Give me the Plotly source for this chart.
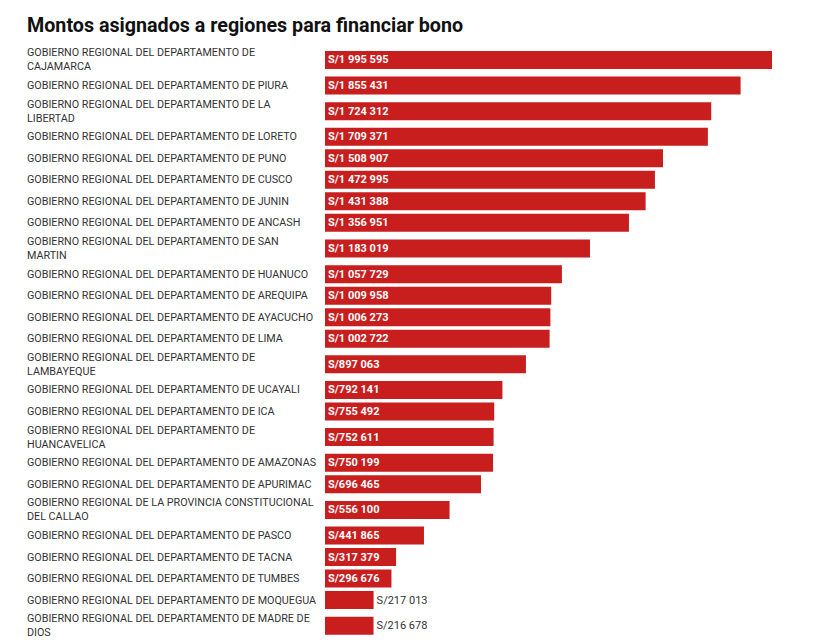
import plotly.graph_objects as go

# --- Data ---
TITLE = "Montos asignados a regiones para financiar bono"

regions = [
    "GOBIERNO REGIONAL DEL DEPARTAMENTO DE<br>CAJAMARCA",
    "GOBIERNO REGIONAL DEL DEPARTAMENTO DE PIURA",
    "GOBIERNO REGIONAL DEL DEPARTAMENTO DE LA<br>LIBERTAD",
    "GOBIERNO REGIONAL DEL DEPARTAMENTO DE LORETO",
    "GOBIERNO REGIONAL DEL DEPARTAMENTO DE PUNO",
    "GOBIERNO REGIONAL DEL DEPARTAMENTO DE CUSCO",
    "GOBIERNO REGIONAL DEL DEPARTAMENTO DE JUNIN",
    "GOBIERNO REGIONAL DEL DEPARTAMENTO DE ANCASH",
    "GOBIERNO REGIONAL DEL DEPARTAMENTO DE SAN<br>MARTIN",
    "GOBIERNO REGIONAL DEL DEPARTAMENTO DE HUANUCO",
    "GOBIERNO REGIONAL DEL DEPARTAMENTO DE AREQUIPA",
    "GOBIERNO REGIONAL DEL DEPARTAMENTO DE AYACUCHO",
    "GOBIERNO REGIONAL DEL DEPARTAMENTO DE LIMA",
    "GOBIERNO REGIONAL DEL DEPARTAMENTO DE<br>LAMBAYEQUE",
    "GOBIERNO REGIONAL DEL DEPARTAMENTO DE UCAYALI",
    "GOBIERNO REGIONAL DEL DEPARTAMENTO DE ICA",
    "GOBIERNO REGIONAL DEL DEPARTAMENTO DE<br>HUANCAVELICA",
    "GOBIERNO REGIONAL DEL DEPARTAMENTO DE AMAZONAS",
    "GOBIERNO REGIONAL DEL DEPARTAMENTO DE APURIMAC",
    "GOBIERNO REGIONAL DE LA PROVINCIA CONSTITUCIONAL<br>DEL CALLAO",
    "GOBIERNO REGIONAL DEL DEPARTAMENTO DE PASCO",
    "GOBIERNO REGIONAL DEL DEPARTAMENTO DE TACNA",
    "GOBIERNO REGIONAL DEL DEPARTAMENTO DE TUMBES",
    "GOBIERNO REGIONAL DEL DEPARTAMENTO DE MOQUEGUA",
    "GOBIERNO REGIONAL DEL DEPARTAMENTO DE MADRE DE<br>DIOS",
]

amounts = [
    1995595, 1855431, 1724312, 1709371, 1508907, 1472995, 1431388, 1356951,
    1183019, 1057729, 1009958, 1006273, 1002722, 897063, 792141, 755492,
    752611, 750199, 696465, 556100, 441865, 317379, 296676, 217013, 216678,
]

# --- Styling ---
BAR_COLOR = "#c81e1e"
TEXT_COLOR = "#333333"
FONT = "Roboto"
ROW_SINGLE = 21.5   # px height of a row with a one-line label
ROW_DOUBLE = 29.8   # px height of a row with a two-line label
BAR_THICK = 18
# the page body has an 8px margin, so the figure is drawn 8px in
WIDTH, HEIGHT = 805, 632
MARGIN_L, MARGIN_R, MARGIN_T = 317, 41, 37

# row centres follow the label height (rows with wrapped labels are taller)
heights = [ROW_DOUBLE if "<br>" in r else ROW_SINGLE for r in regions]
centers = []
acc = 0
for h in heights:
    centers.append(acc + h / 2)
    acc += h

labels = ["S/" + f"{v:,}".replace(",", " ") for v in amounts]
positions = ["inside" if v > 250000 else "outside" for v in amounts]

fig = go.Figure()
fig.add_trace(go.Bar(
    x=amounts, y=centers, orientation="h",
    width=BAR_THICK,
    marker=dict(color=BAR_COLOR, line_width=0),
    text=labels, textposition=positions,
    insidetextanchor="start",
    insidetextfont=dict(family=FONT, size=11, color="white", weight=700),
    outsidetextfont=dict(family=FONT, size=11, color=TEXT_COLOR),
    constraintext="none", cliponaxis=False,
    hoverinfo="skip",
))

# left-aligned region labels
x_label = (17 - MARGIN_L) / (WIDTH - MARGIN_L - MARGIN_R)
for name, c in zip(regions, centers):
    fig.add_annotation(
        x=x_label, xref="paper", y=c, yref="y",
        text=name, showarrow=False,
        xanchor="left", yanchor="middle", align="left",
        font=dict(family=FONT, size=10.75, color=TEXT_COLOR),
    )

fig.update_layout(
    width=WIDTH, height=HEIGHT,
    margin=dict(l=MARGIN_L, r=MARGIN_R, t=MARGIN_T, b=0),
    title=dict(text="<b>" + TITLE + "</b>", x=19 / WIDTH, xanchor="left",
               y=1 - 17 / HEIGHT, yanchor="middle",
               font=dict(family=FONT, size=19.7, color="#111111")),
    plot_bgcolor="white", paper_bgcolor="white",
    showlegend=False,
    font=dict(family=FONT),
    xaxis=dict(range=[0, max(amounts)], visible=False, fixedrange=True),
    yaxis=dict(range=[HEIGHT - MARGIN_T, 0], visible=False, fixedrange=True),
)

fig.write_html("out.html")
